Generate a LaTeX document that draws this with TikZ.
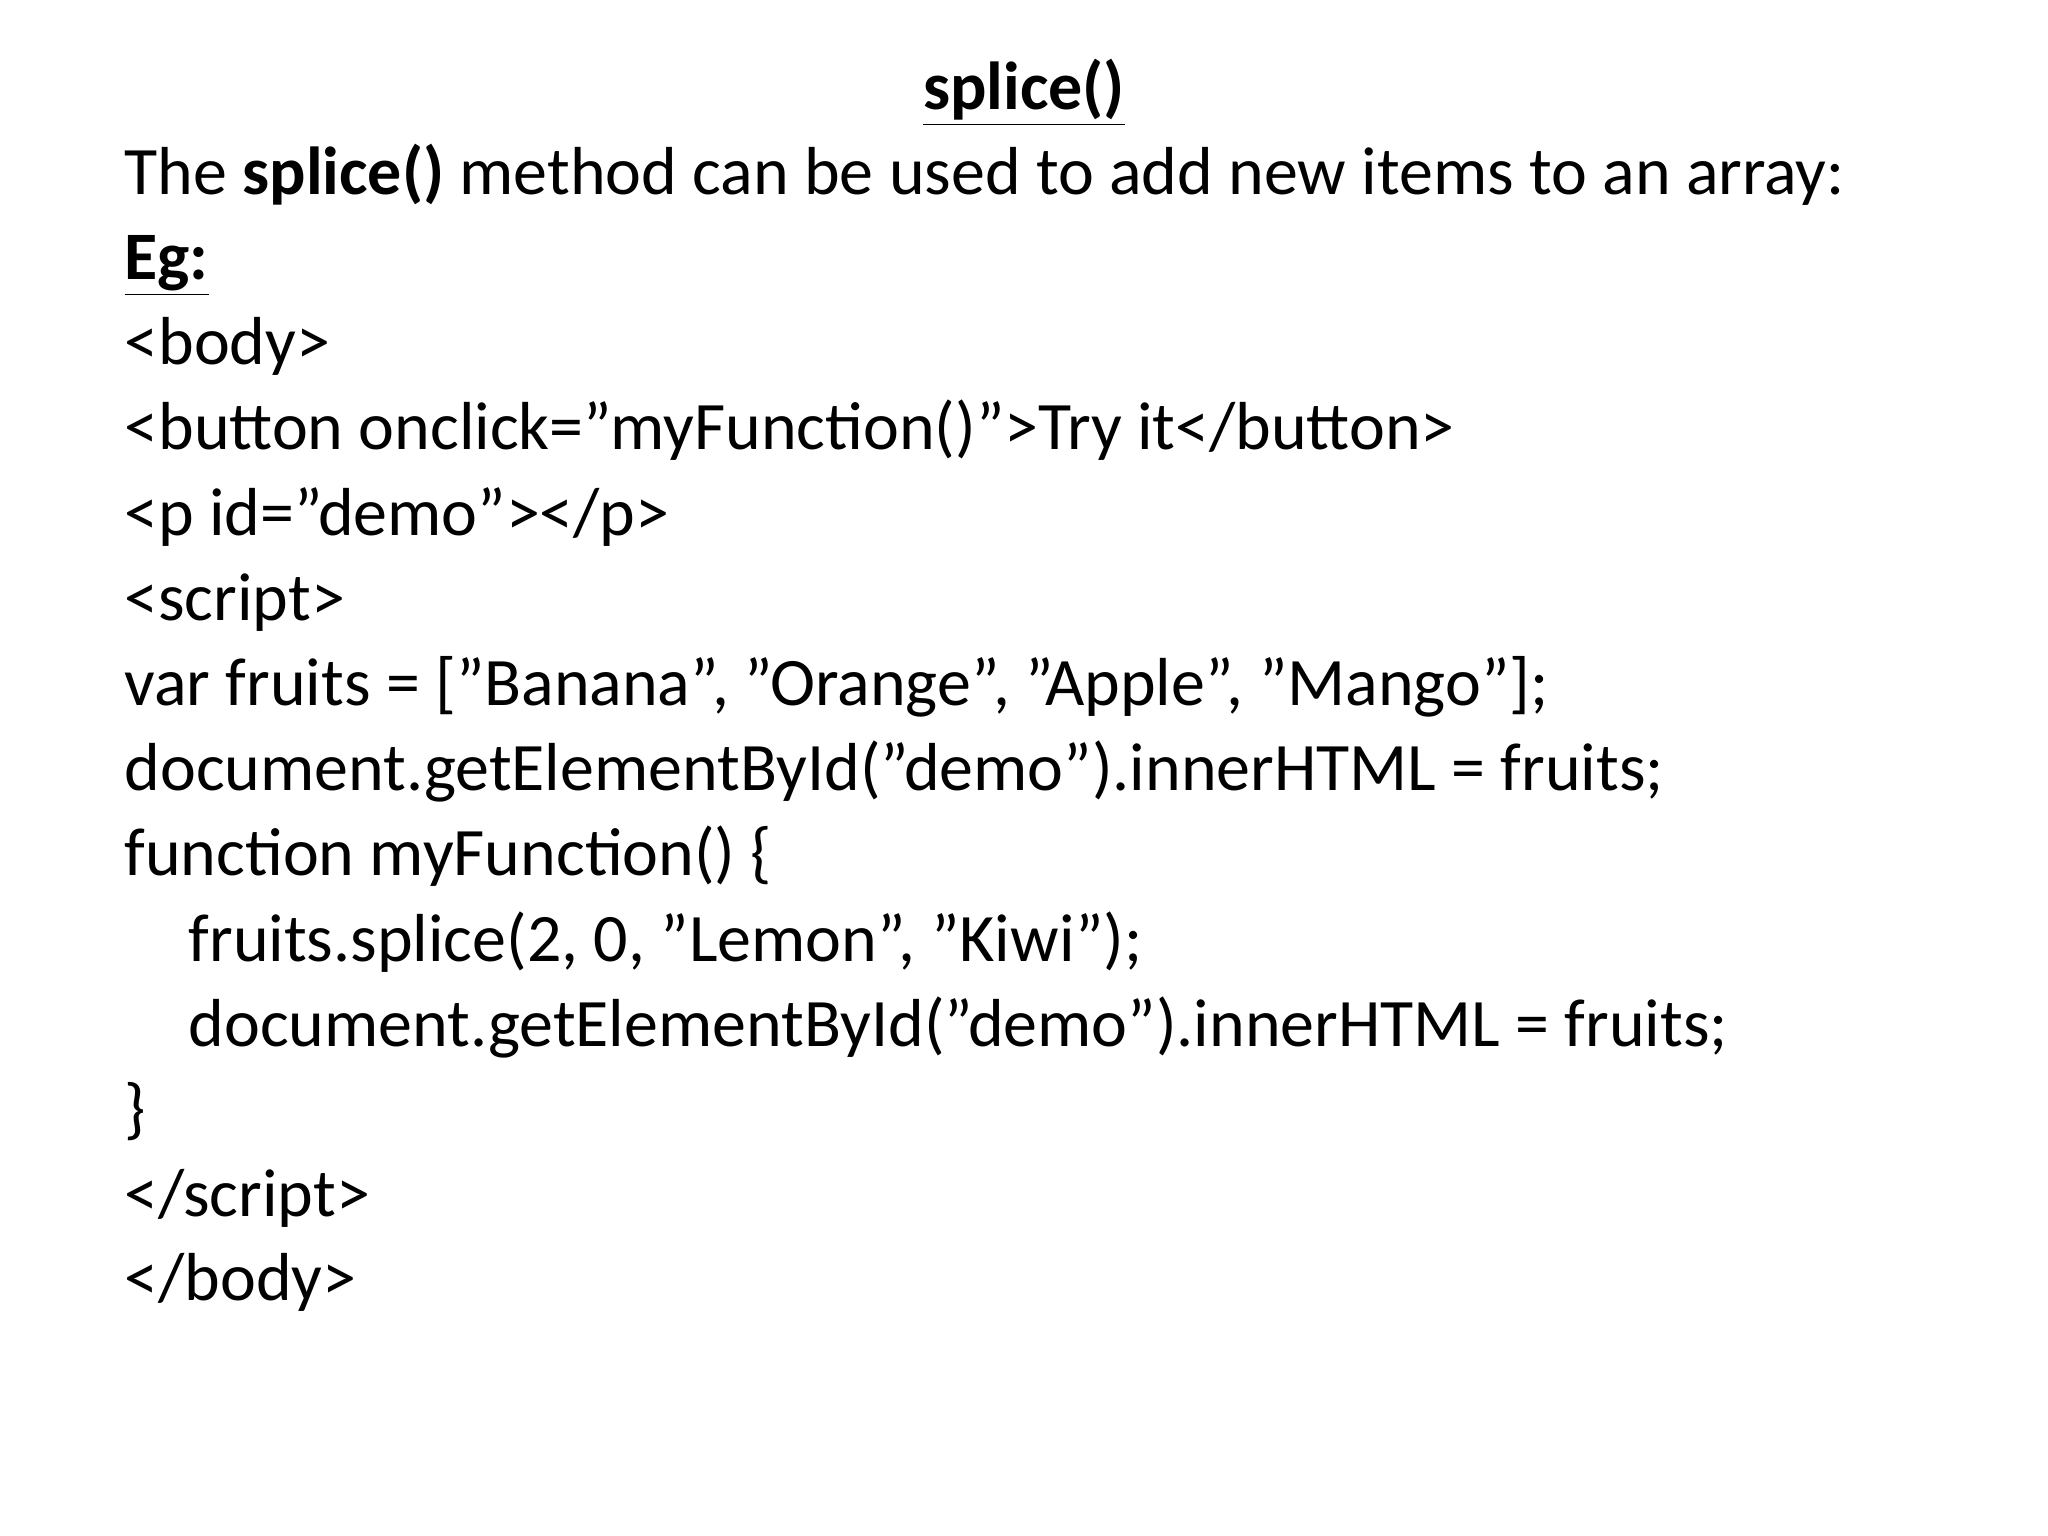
\documentclass[tikz,border=0pt]{standalone}
\usepackage{fontspec}
\setmainfont{Carlito}
\usetikzlibrary{positioning}
\tikzset{
	codeline/.style={anchor=base west, inner sep=0pt, font=\fontsize{26}{31}\selectfont},
	titleline/.style={anchor=base, inner sep=0pt, font=\fontsize{26}{31}\selectfont\bfseries},
}
\begin{document}
\begin{tikzpicture}[x=0.5pt,y=-0.5pt]
\useasboundingbox (0,0) rectangle (1568,1176);
\fill[white] (0,0) rectangle (1568,1176);

% heading
\node[titleline] (title) at (784,84) {\underline{splice()}};
\node[codeline] (intro) at (95,149) {The \textbf{splice()} method can be used to add new items to an array:};
\node[codeline] (eg) at (95,214) {\textbf{\underline{Eg:}}};

% code
\node[codeline] (l1) at (95,279) {<body>};
\node[codeline] (l2) at (95,344) {<button onclick="myFunction()">Try it</button>};
\node[codeline] (l3) at (95,410) {<p id="demo"></p>};
\node[codeline] (l4) at (95,475) {<script>};
\node[codeline] (l5) at (95,540) {var fruits = ["Banana", "Orange", "Apple", "Mango"];};
\node[codeline] (l6) at (95,605) {document.getElementById("demo").innerHTML = fruits;};
\node[codeline] (l7) at (95,670) {function myFunction() \{};
\node[codeline] (l8) at (144,736) {fruits.splice(2, 0, "Lemon", "Kiwi");};
\node[codeline] (l9) at (144,801) {document.getElementById("demo").innerHTML = fruits;};
\node[codeline] (l10) at (95,866) {\}};
\node[codeline] (l11) at (95,931) {</script>};
\node[codeline] (l12) at (95,996) {</body>};

\end{tikzpicture}
\end{document}
